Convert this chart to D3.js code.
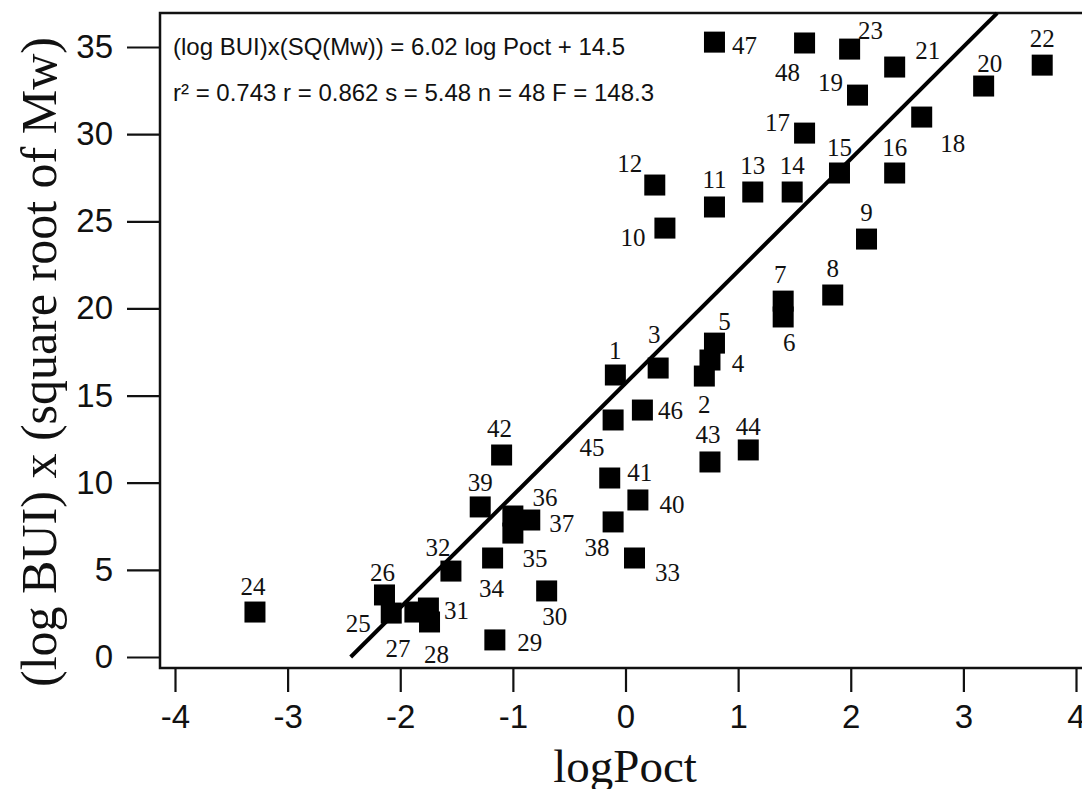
<!DOCTYPE html>
<html>
<head>
<meta charset="utf-8">
<script src="https://cdn.jsdelivr.net/npm/d3@7"></script>
<style>
  body { margin: 0; background: #fff; }
</style>
</head>
<body>
<div class="plot"></div>
<script>
// compound numbers and values
const ids = d3.range(1, 49)
const logPoct = [-0.09, 0.70, 0.29, 0.75, 0.79, 1.40, 1.40, 1.84, 2.14, 0.35,
  0.79, 0.26, 1.13, 1.48, 1.90, 2.39, 1.59, 2.63, 2.06, 3.18,
  2.39, 3.70, 1.99, -3.29, -2.08, -2.14, -1.87, -1.74, -1.16, -0.70,
  -1.75, -1.55, 0.08, -1.18, -1.00, -1.00, -0.85, -0.11, -1.29, 0.11,
  -0.14, -1.10, 0.75, 1.09, -0.11, 0.15, 0.79, 1.59]
const buiMw = [16.18, 16.12, 16.58, 17.04, 18.01, 19.51, 20.42, 20.77, 23.98, 24.61,
  25.82, 27.08, 26.68, 26.68, 27.77, 27.77, 30.06, 30.98, 32.24, 32.76,
  33.85, 33.96, 34.88, 2.58, 2.52, 3.56, 2.58, 2.01, 0.98, 3.79,
  2.81, 4.93, 5.68, 5.68, 7.11, 8.09, 7.86, 7.75, 8.61, 9.01,
  10.27, 11.59, 11.19, 11.88, 13.60, 14.17, 35.28, 35.23]
// fitted line as drawn in the figure
const fitX = [-2.44, 3.30]
const fitY = [0, 36.94]
const xTicks = [-4, -3, -2, -1, 0, 1, 2, 3, 4]
const yTicks = [0, 5, 10, 15, 20, 25, 30, 35]
const eqText = '(log BUI)x(SQ(Mw)) = 6.02 log Poct + 14.5'
const statText = 'r\u00B2 = 0.743 r = 0.862 s = 5.48 n = 48 F = 148.3'

// where each number sits next to its square (px)
const labelOff = [[0,-25],[0,28],[-4,-34],[28,3],[10,-22],[6,26],[-3,-27],[0,-27],[0,-27],[-32,9],
  [0,-27],[-25,-22],[0,-27],[0,-27],[0,-26],[0,-26],[-27,-11],[31,26],[-27,-13],[6,-23],
  [33,-17],[0,-27],[21,-19],[-2,-26],[-33,10],[-2,-22],[-17,36],[7,33],[35,3],[8,26],
  [28,2],[-13,-24],[33,14],[-1,30],[22,25],[32,-19],[32,3],[-16,26],[0,-24],[34,5],
  [30,-6],[-2,-27],[-2,-27],[0,-23],[-21,28],[28,0],[30,3],[-17,30]]

const width = 1082
const height = 789
const svg = d3.select('.plot')
  .append('svg')
  .attr('width', width)
  .attr('height', height)

const x = d3.scaleLinear().domain([-4, 4]).range([175, 1076])
const y = d3.scaleLinear().domain([0, 35]).range([657, 47])

// frame (runs off the right edge like the original)
svg.append('rect')
  .attr('x', 160).attr('y', 13)
  .attr('width', 1000).attr('height', 655)
  .attr('fill', 'none')
  .attr('stroke', '#111')
  .attr('stroke-width', 2.5)

const xAxis = svg.append('g')
  .attr('transform', 'translate(0,668)')
  .call(d3.axisBottom(x).tickValues(xTicks).tickSize(24).tickPadding(13).tickFormat(d3.format('d')))
xAxis.select('.domain').remove()

const yAxis = svg.append('g')
  .attr('transform', 'translate(160,0)')
  .call(d3.axisLeft(y).tickValues(yTicks).tickSize(33).tickPadding(14))
yAxis.select('.domain').remove()

svg.selectAll('.tick line').attr('stroke', '#111').attr('stroke-width', 2.2)
svg.selectAll('.tick text')
  .attr('fill', '#111')
  .attr('font-family', 'Liberation Sans, Arial, sans-serif')
  .attr('font-size', 33)
xAxis.selectAll('.tick text').text(d => d < 0 ? '-' + Math.abs(d) : d)

// axis titles
svg.append('text')
  .attr('x', 625).attr('y', 782)
  .attr('text-anchor', 'middle')
  .attr('font-family', 'Liberation Serif, Times New Roman, serif')
  .attr('font-size', 47)
  .attr('fill', '#111')
  .text('logPoct')

svg.append('text')
  .attr('transform', 'translate(56,362) rotate(-90)')
  .attr('text-anchor', 'middle')
  .attr('font-family', 'Liberation Serif, Times New Roman, serif')
  .attr('font-size', 50)
  .attr('fill', '#111')
  .text('(log BUI) x (square root of Mw)')

// equation block
svg.append('text')
  .attr('x', 173).attr('y', 55)
  .attr('font-family', 'Liberation Sans, Arial, sans-serif')
  .attr('font-size', 24)
  .attr('fill', '#111')
  .text(eqText)
svg.append('text')
  .attr('x', 173).attr('y', 101)
  .attr('font-family', 'Liberation Sans, Arial, sans-serif')
  .attr('font-size', 24)
  .attr('fill', '#111')
  .text(statText)

// regression line
svg.append('line')
  .attr('x1', x(fitX[0])).attr('y1', y(fitY[0]))
  .attr('x2', x(fitX[1])).attr('y2', y(fitY[1]))
  .attr('stroke', '#000')
  .attr('stroke-width', 4)

const pts = ids.map((id, i) => ({id: id, lp: logPoct[i], v: buiMw[i], off: labelOff[i]}))
const sq = 21

svg.selectAll('.pt')
  .data(pts)
  .enter()
  .append('rect')
  .attr('class', 'pt')
  .attr('x', d => x(d.lp) - sq / 2)
  .attr('y', d => y(d.v) - sq / 2)
  .attr('width', sq)
  .attr('height', sq)
  .attr('fill', '#000')

svg.selectAll('.lbl')
  .data(pts)
  .enter()
  .append('text')
  .attr('class', 'lbl')
  .attr('x', d => x(d.lp) + d.off[0])
  .attr('y', d => y(d.v) + d.off[1])
  .attr('dy', '0.34em')
  .attr('text-anchor', 'middle')
  .attr('font-family', 'Liberation Serif, Times New Roman, serif')
  .attr('font-size', 25)
  .attr('fill', '#111')
  .text(d => d.id)
</script>
</body>
</html>
